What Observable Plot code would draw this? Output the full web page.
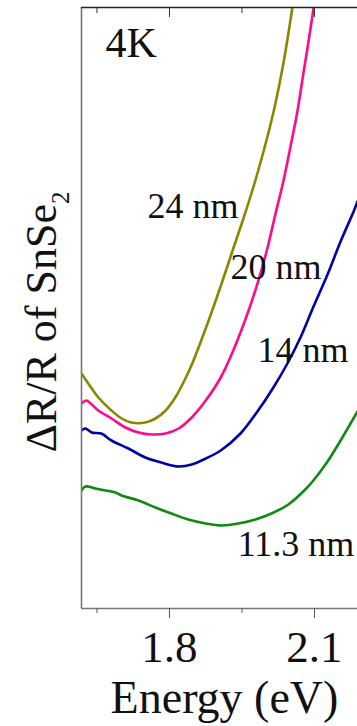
<!DOCTYPE html>
<html><head><meta charset="utf-8">
<script src="https://cdn.jsdelivr.net/npm/d3@7"></script>
<script src="https://cdn.jsdelivr.net/npm/@observablehq/plot@0.6"></script>
<style>
html,body{margin:0;padding:0;background:#fff;overflow:hidden}
</style>
</head><body><div id="chart"></div>
<script>
// Energy (eV) and ΔR/R (arb. units)
const energy24 = [1.618,1.632,1.653,1.680,1.701,1.721,1.750,1.771,1.792,1.812,1.833,1.848,1.881,1.910,1.932,1.953,1.974,1.994,2.015,2.036,2.054];
const signal24 = [2.35,2.25,2.11,1.98,1.90,1.86,1.86,1.90,1.98,2.11,2.30,2.46,2.88,3.28,3.60,3.90,4.22,4.56,4.96,5.46,6.00];

const energy20 = [1.618,1.628,1.637,1.653,1.680,1.709,1.736,1.763,1.792,1.819,1.846,1.875,1.906,1.932,1.963,1.984,2.003,2.019,2.036,2.050,2.065,2.077,2.088,2.098];
const signal20 = [2.05,2.08,2.05,1.98,1.90,1.81,1.76,1.74,1.75,1.80,1.91,2.08,2.31,2.58,2.97,3.28,3.61,3.94,4.28,4.61,4.98,5.35,5.68,6.00];

const energy14 = [1.618,1.626,1.639,1.659,1.680,1.715,1.750,1.783,1.819,1.846,1.875,1.906,1.947,1.982,2.015,2.044,2.071,2.098,2.127,2.154,2.181,2.189];
const signal14 = [1.78,1.80,1.76,1.75,1.68,1.60,1.51,1.46,1.42,1.44,1.50,1.58,1.75,1.97,2.21,2.45,2.71,3.02,3.34,3.67,3.97,4.07];

const energy11 = [1.618,1.626,1.647,1.668,1.688,1.701,1.736,1.771,1.804,1.839,1.875,1.908,1.943,1.978,2.011,2.046,2.081,2.096,2.127,2.154,2.189];
const signal11 = [1.18,1.22,1.20,1.18,1.16,1.13,1.08,1.01,0.95,0.89,0.85,0.83,0.85,0.89,0.95,1.04,1.19,1.27,1.47,1.68,1.97];

const seriesNames = ["24 nm", "20 nm", "14 nm", "11.3 nm"];
const seriesColors = ["#888800", "#ff0a8c", "#0000a8", "#118a11"];
// label anchor (energy, signal) for each thickness label
const labelEnergy = [1.7545, 1.926, 1.982, 1.941];
const labelSignal = [3.91, 3.30, 2.47, 0.53];

const xDomain = [1.618, 2.189];
const yDomain = [0, 6.01];
const majorTicks = [1.8, 2.1];
const minorTicks = [1.65, 1.95];

const mk = (name, xs, ys) => xs.map((e, i) => ({series: name, energy: e, signal: ys[i]}));
const rows = [
  ...mk("24 nm", energy24, signal24),
  ...mk("20 nm", energy20, signal20),
  ...mk("14 nm", energy14, signal14),
  ...mk("11.3 nm", energy11, signal11)
];
const labels = seriesNames.map((n, i) => ({series: n, energy: labelEnergy[i], signal: labelSignal[i]}));

const FONT = "'Liberation Serif', 'Times New Roman', serif";

const chart = Plot.plot({
  width: 357,
  height: 726,
  marginLeft: 81,
  marginRight: 0,
  marginTop: 7,
  marginBottom: 118,
  style: {fontFamily: FONT, background: "#fff"},
  x: {domain: xDomain},
  y: {domain: yDomain, axis: null},
  color: {domain: seriesNames, range: seriesColors},
  marks: [
    Plot.line(rows, {x: "energy", y: "signal", z: "series", stroke: "series", strokeWidth: 2.6, curve: "catmull-rom", clip: true}),
    Plot.text(labels, {x: "energy", y: "signal", text: "series", textAnchor: "start", lineAnchor: "bottom", fontSize: 36, fill: "#111"}),
    Plot.ruleX([xDomain[0]], {stroke: "#777", strokeWidth: 1.6}),
    Plot.ruleY([yDomain[0]], {stroke: "#777", strokeWidth: 1.6}),
    Plot.ruleY([yDomain[1]], {stroke: "#222", strokeWidth: 1.4}),
    Plot.axisX({ticks: majorTicks, tickSize: 10, tickPadding: 12, tickFormat: d => d.toFixed(1), fontSize: 45, stroke: "#555", fill: "#111", label: null}),
    Plot.axisX({ticks: minorTicks, tickSize: 5, tickFormat: () => "", stroke: "#555", label: null}),
    Plot.axisX({anchor: "top", ticks: majorTicks, tickSize: -9, tickFormat: () => "", stroke: "#333", label: null}),
    Plot.axisX({anchor: "top", ticks: minorTicks, tickSize: -5, tickFormat: () => "", stroke: "#333", label: null}),
    Plot.text(["Energy (eV)"], {frameAnchor: "bottom", textAnchor: "middle", lineAnchor: "top", dx: 5, dy: 72, fontSize: 46, fill: "#111"}),
    Plot.text(["4K"], {frameAnchor: "top-left", textAnchor: "start", lineAnchor: "bottom", dx: 24, dy: 49, fontSize: 42, fill: "#111"}),
    Plot.text(["ΔR/R of SnSe2"], {frameAnchor: "left", textAnchor: "middle", rotate: -90, lineAnchor: "bottom", dx: -26, dy: 14, fontSize: 44, fill: "#111"})
  ]
});

d3.select(chart).selectAll("text").filter(function() { return this.textContent === "ΔR/R of SnSe2"; })
  .each(function() {
    const t = d3.select(this);
    t.text("ΔR/R of SnSe");
    t.append("tspan").attr("dy", 13).attr("font-size", 25).text("2");
  });

document.getElementById("chart").appendChild(chart);
</script>
</body></html>
